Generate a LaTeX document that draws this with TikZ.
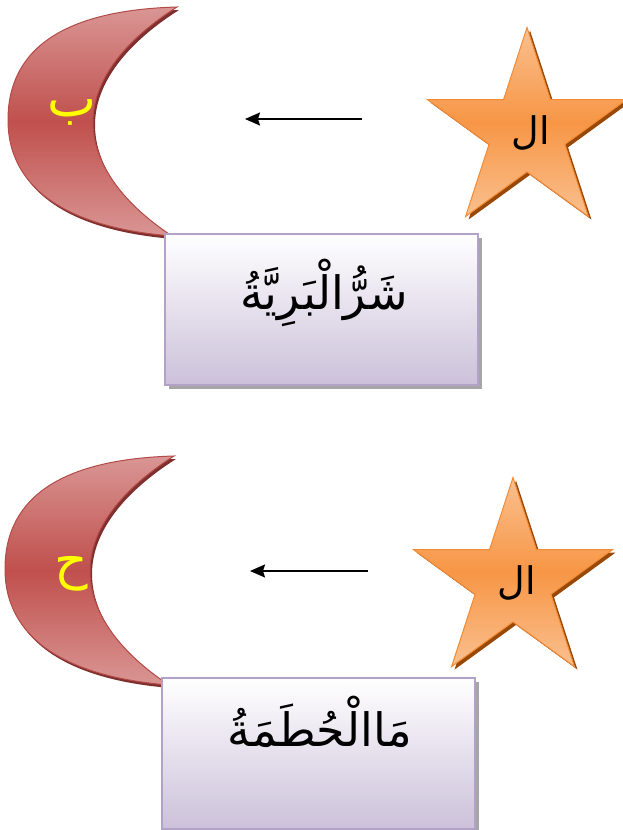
\documentclass[tikz,border=0pt]{standalone}
\usepackage{fontspec}
\newfontfamily\arabicfont[Script=Arabic]{DejaVu Sans}
\TeXXeTstate=1
\usetikzlibrary{shapes.geometric,shadows,arrows.meta}
\definecolor{moonlight}{HTML}{D99694}
\definecolor{moonmid}{HTML}{C0504D}
\definecolor{moonedge}{HTML}{B24A47}
\definecolor{moonshadow}{HTML}{7F2F2D}
\definecolor{starlight}{HTML}{FAC08F}
\definecolor{starmid}{HTML}{F79646}
\definecolor{staredge}{HTML}{F38A34}
\definecolor{starshadow}{HTML}{984807}
\definecolor{boxedge}{HTML}{B3A2C7}
\definecolor{boxbottom}{HTML}{CCC1DA}
\definecolor{boxshadow}{HTML}{A6A6A6}
\definecolor{letteryellow}{HTML}{FFFF00}
\tikzset{
  moonshape/.style={draw=moonedge, line width=1pt, top color=moonlight, bottom color=moonlight, middle color=moonmid,
    drop shadow={shadow xshift=2pt, shadow yshift=-3pt, fill=moonshadow, opacity=1}},
  starshape/.style={star, star points=5, star point ratio=2.618, minimum size=209pt, inner sep=0pt,
    draw=staredge, line width=1pt, top color=starlight, bottom color=starlight, middle color=starmid,
    drop shadow={shadow xshift=3pt, shadow yshift=-3pt, fill=starshadow, opacity=1}},
  wordbox/.style={rectangle, draw=boxedge, line width=2pt, top color=white, bottom color=boxbottom,
    minimum width=313pt, minimum height=151pt, inner sep=0pt,
    drop shadow={shadow xshift=4pt, shadow yshift=-4pt, fill=boxshadow, opacity=1}},
  moonletter/.style={text=letteryellow, font=\arabicfont\fontsize{52}{60}\selectfont, inner sep=0pt},
  starletter/.style={text=black, font=\arabicfont\fontsize{38}{44}\selectfont, inner sep=0pt},
  boxword/.style={text=black, font=\arabicfont\fontsize{46}{54}\selectfont, inner sep=0pt},
  leftarrow/.style={line width=1.6pt, -{Stealth[length=15pt,width=13pt,inset=2pt]}}
}
\begin{document}
\begin{tikzpicture}[x=1pt,y=-1pt]
\useasboundingbox (0,0) rectangle (623,830);
% ---------- top group ----------
\path[moonshape] (177,7) .. controls (70,10) and (8,45) .. (8,120)
  .. controls (8,190) and (70,228) .. (172,236)
  .. controls (125,205) and (93,165) .. (93,122)
  .. controls (93,80) and (125,40) .. (177,7) -- cycle;
\node[moonletter] (m1) at (72,112) {\beginR ب\endR};
\node[starshape] (s1) at (527,132) {};
\node[starletter] (s1t) at (531,133) {\beginR ال\endR};
\coordinate (a1s) at (362,119);
\coordinate (a1e) at (245,119);
\draw[leftarrow] (a1s) -- (a1e);
\node[wordbox] (b1) at (321.5,309) {};
\node[boxword] (b1t) at (324,293) {\beginR شَرُّالْبَرِيَّةُ\endR};
% ---------- bottom group ----------
\begin{scope}[shift={(-3,449)}]
\path[moonshape] (177,7) .. controls (70,10) and (8,45) .. (8,120)
  .. controls (8,190) and (70,228) .. (172,236)
  .. controls (125,205) and (93,165) .. (93,122)
  .. controls (93,80) and (125,40) .. (177,7) -- cycle;
\end{scope}
\node[moonletter] (m2) at (71,574) {\beginR ح\endR};
\node[starshape] (s2) at (513,582) {};
\node[starletter] (s2t) at (517,583) {\beginR ال\endR};
\coordinate (a2s) at (368,571);
\coordinate (a2e) at (250,571);
\draw[leftarrow] (a2s) -- (a2e);
\node[wordbox] (b2) at (318.5,753) {};
\node[boxword] (b2t) at (320,722) {\beginR مَاالْحُطَمَةُ\endR};
\end{tikzpicture}
\end{document}
